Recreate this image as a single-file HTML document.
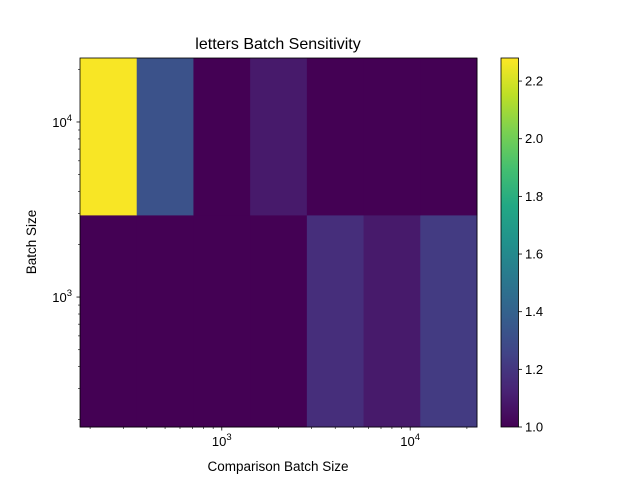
<!DOCTYPE html>
<html><head><meta charset="utf-8"><style>
body{margin:0;background:#fff;}
svg text{font-family:"Liberation Sans","DejaVu Sans",sans-serif;fill:#000;}
</style></head><body>
<svg id="chart" width="640" height="480" xmlns="http://www.w3.org/2000/svg">
<defs><linearGradient id="vir" x1="0" y1="1" x2="0" y2="0">
<stop offset="0" stop-color="#440154"/><stop offset="0.1" stop-color="#482475"/><stop offset="0.2" stop-color="#414487"/><stop offset="0.3" stop-color="#355f8d"/><stop offset="0.4" stop-color="#2a788e"/><stop offset="0.5" stop-color="#21918c"/><stop offset="0.6" stop-color="#22a884"/><stop offset="0.7" stop-color="#44bf70"/><stop offset="0.8" stop-color="#7ad151"/><stop offset="0.9" stop-color="#bddf26"/><stop offset="1" stop-color="#fde725"/>
</linearGradient></defs>
<g id="cells"></g>
<g id="axes"></g>
<text x="278" y="49" text-anchor="middle" font-size="16">letters Batch Sensitivity</text>
<text x="278" y="471" text-anchor="middle" font-size="13.5">Comparison Batch Size</text>
<text transform="translate(36,242) rotate(-90)" text-anchor="middle" font-size="13.5">Batch Size</text>
<rect x="501" y="58" width="17.5" height="369" fill="url(#vir)" stroke="#000" stroke-width="0.8"/>
<g id="cbar"></g>
</svg>
<script>
const xCenters = [250, 500, 1000, 2000, 4000, 8000, 16000];
const yEdges = [181, 2946, 23200];
const rowTop = [2.27, 1.32, 1.0, 1.09, 1.0, 1.0, 1.0];
const rowBottom = [1.0, 1.0, 1.0, 1.0, 1.17, 1.09, 1.22];
const cbTicks = [1.0, 1.2, 1.4, 1.6, 1.8, 2.0, 2.2];
const vmin = 1.0, vmax = 2.28;

const NS = "http://www.w3.org/2000/svg";
const L = 80, R = 477, T = 58, B = 427;
const xEdges = [];
for (let i = 0; i <= xCenters.length; i++) {
  if (i === 0) xEdges.push(xCenters[0] / Math.sqrt(xCenters[1]/xCenters[0]));
  else if (i === xCenters.length) xEdges.push(xCenters[i-1] * Math.sqrt(xCenters[i-1]/xCenters[i-2]));
  else xEdges.push(Math.sqrt(xCenters[i-1]*xCenters[i]));
}
const xLo = Math.log10(xEdges[0]), xHi = Math.log10(xEdges[xEdges.length-1]);
const yLo = Math.log10(yEdges[0]), yHi = Math.log10(yEdges[yEdges.length-1]);
const xs = v => L + (Math.log10(v) - xLo) / (xHi - xLo) * (R - L);
const ys = v => B - (Math.log10(v) - yLo) / (yHi - yLo) * (B - T);
const vir = ["#440154","#482475","#414487","#355f8d","#2a788e","#21918c","#22a884","#44bf70","#7ad151","#bddf26","#fde725"];
function cmap(v){
  let t = Math.max(0, Math.min(1, (v - vmin) / (vmax - vmin))) * 10;
  let i = Math.min(9, Math.floor(t)), f = t - i;
  const a = vir[i], b = vir[i+1];
  const c = k => Math.round(parseInt(a.substr(k,2),16)*(1-f) + parseInt(b.substr(k,2),16)*f);
  return `rgb(${c(1)},${c(3)},${c(5)})`;
}
function mk(tag, attrs, parent){
  const e = document.createElementNS(NS, tag);
  for (const k in attrs) e.setAttribute(k, attrs[k]);
  parent.appendChild(e); return e;
}
const cells = document.getElementById('cells');
[rowBottom, rowTop].forEach((row, r) => {
  row.forEach((v, c) => {
    const x0 = xs(xEdges[c]), x1 = xs(xEdges[c+1]);
    const y0 = ys(yEdges[r+1]), y1 = ys(yEdges[r]);
    const el = mk('rect', {x: x0, y: y0, width: x1 - x0 + 0.5, height: y1 - y0 + 0.5, fill: cmap(v)}, cells);
    
    
  });
});
const ax = document.getElementById('axes');
mk('rect', {x: L, y: T, width: R - L, height: B - T, fill: 'none', stroke: '#000', 'stroke-width': 0.8}, ax);
for (let d = 2; d <= 4; d++) for (let m = 1; m <= 9; m++) {
  const v = m * Math.pow(10, d), x = xs(v);
  if (x < L - 0.1 || x > R + 0.1) continue;
  mk('line', {x1: x, x2: x, y1: B, y2: B + (m === 1 ? 3.5 : 2), stroke: '#000', 'stroke-width': m === 1 ? 0.8 : 0.6}, ax);
  if (m === 1) {
    const t = mk('text', {x: x, y: B + 19, 'text-anchor': 'middle', 'font-size': 13}, ax);
    t.innerHTML = '10<tspan font-size="9.5" dy="-6">' + d + '</tspan>';
    
    
  }
}
for (let d = 2; d <= 4; d++) for (let m = 1; m <= 9; m++) {
  const v = m * Math.pow(10, d), y = ys(v);
  if (y < T - 0.1 || y > B + 0.1) continue;
  mk('line', {x1: L, x2: L - (m === 1 ? 3.5 : 2), y1: y, y2: y, stroke: '#000', 'stroke-width': m === 1 ? 0.8 : 0.6}, ax);
  if (m === 1) {
    const t = mk('text', {x: L - 8, y: y + 5, 'text-anchor': 'end', 'font-size': 13}, ax);
    t.innerHTML = '10<tspan font-size="9.5" dy="-6">' + d + '</tspan>';
    
    
  }
}
const cb = document.getElementById('cbar');
cbTicks.forEach(v => {
  const y = B - (v - vmin) / (vmax - vmin) * (B - T);
  mk('line', {x1: 518.5, x2: 522, y1: y, y2: y, stroke: '#000', 'stroke-width': 0.8}, cb);
  const t = mk('text', {x: 525, y: y + 4.5, 'font-size': 13}, cb);
  t.textContent = v.toFixed(1);
  
  
});
</script>
</body></html>
